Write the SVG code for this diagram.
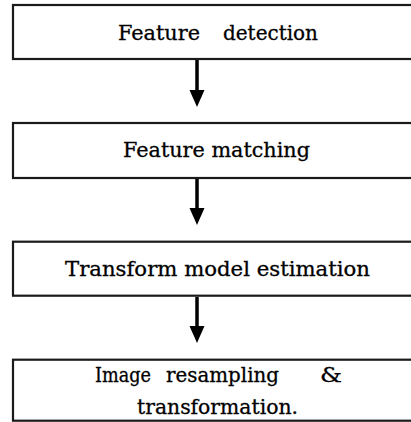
<svg xmlns="http://www.w3.org/2000/svg" width="411" height="422" viewBox="0 0 411 422">
<defs>
<style>
.box{fill:#fff;stroke:#1a1a1a;stroke-width:2.2}
.lbl{font-family:"DejaVu Serif","Liberation Serif",serif;font-size:20px;fill:#000;stroke:#000;stroke-width:0.3}
.edge{stroke:#000;stroke-width:3.5;fill:none}
.head{fill:#000}
</style>
</defs>
<rect width="411" height="422" fill="#fff"/>
<g id="node1">
<rect class="box" x="13" y="5" width="408" height="54"/>
<text class="lbl" y="40"><tspan x="118" textLength="82" lengthAdjust="spacingAndGlyphs">Feature</tspan><tspan x="223" textLength="95" lengthAdjust="spacingAndGlyphs">detection</tspan></text>
</g>
<g id="node2">
<rect class="box" x="13" y="123" width="408" height="55"/>
<text class="lbl" x="123" y="157" textLength="187" lengthAdjust="spacingAndGlyphs">Feature matching</text>
</g>
<g id="node3">
<rect class="box" x="13" y="241.7" width="408" height="54"/>
<text class="lbl" x="65" y="276" textLength="305" lengthAdjust="spacingAndGlyphs">Transform model estimation</text>
</g>
<g id="node4">
<rect class="box" x="13" y="359.7" width="408" height="61"/>
<text class="lbl" y="382"><tspan x="95" textLength="56" lengthAdjust="spacingAndGlyphs">Image</tspan><tspan x="166" textLength="113" lengthAdjust="spacingAndGlyphs">resampling</tspan><tspan x="320" textLength="22" lengthAdjust="spacingAndGlyphs">&amp;</tspan></text>
<text class="lbl" x="137" y="414" textLength="161" lengthAdjust="spacingAndGlyphs">transformation.</text>
</g>
<g id="connectors">
<line class="edge" x1="197" y1="60" x2="197" y2="92"/>
<polygon class="head" points="189.5,90 204.5,90 197,107"/>
<line class="edge" x1="197" y1="179" x2="197" y2="210"/>
<polygon class="head" points="189.5,208 204.5,208 197,225"/>
<line class="edge" x1="197" y1="297" x2="197" y2="328"/>
<polygon class="head" points="189.5,326 204.5,326 197,343"/>
</g>
</svg>
